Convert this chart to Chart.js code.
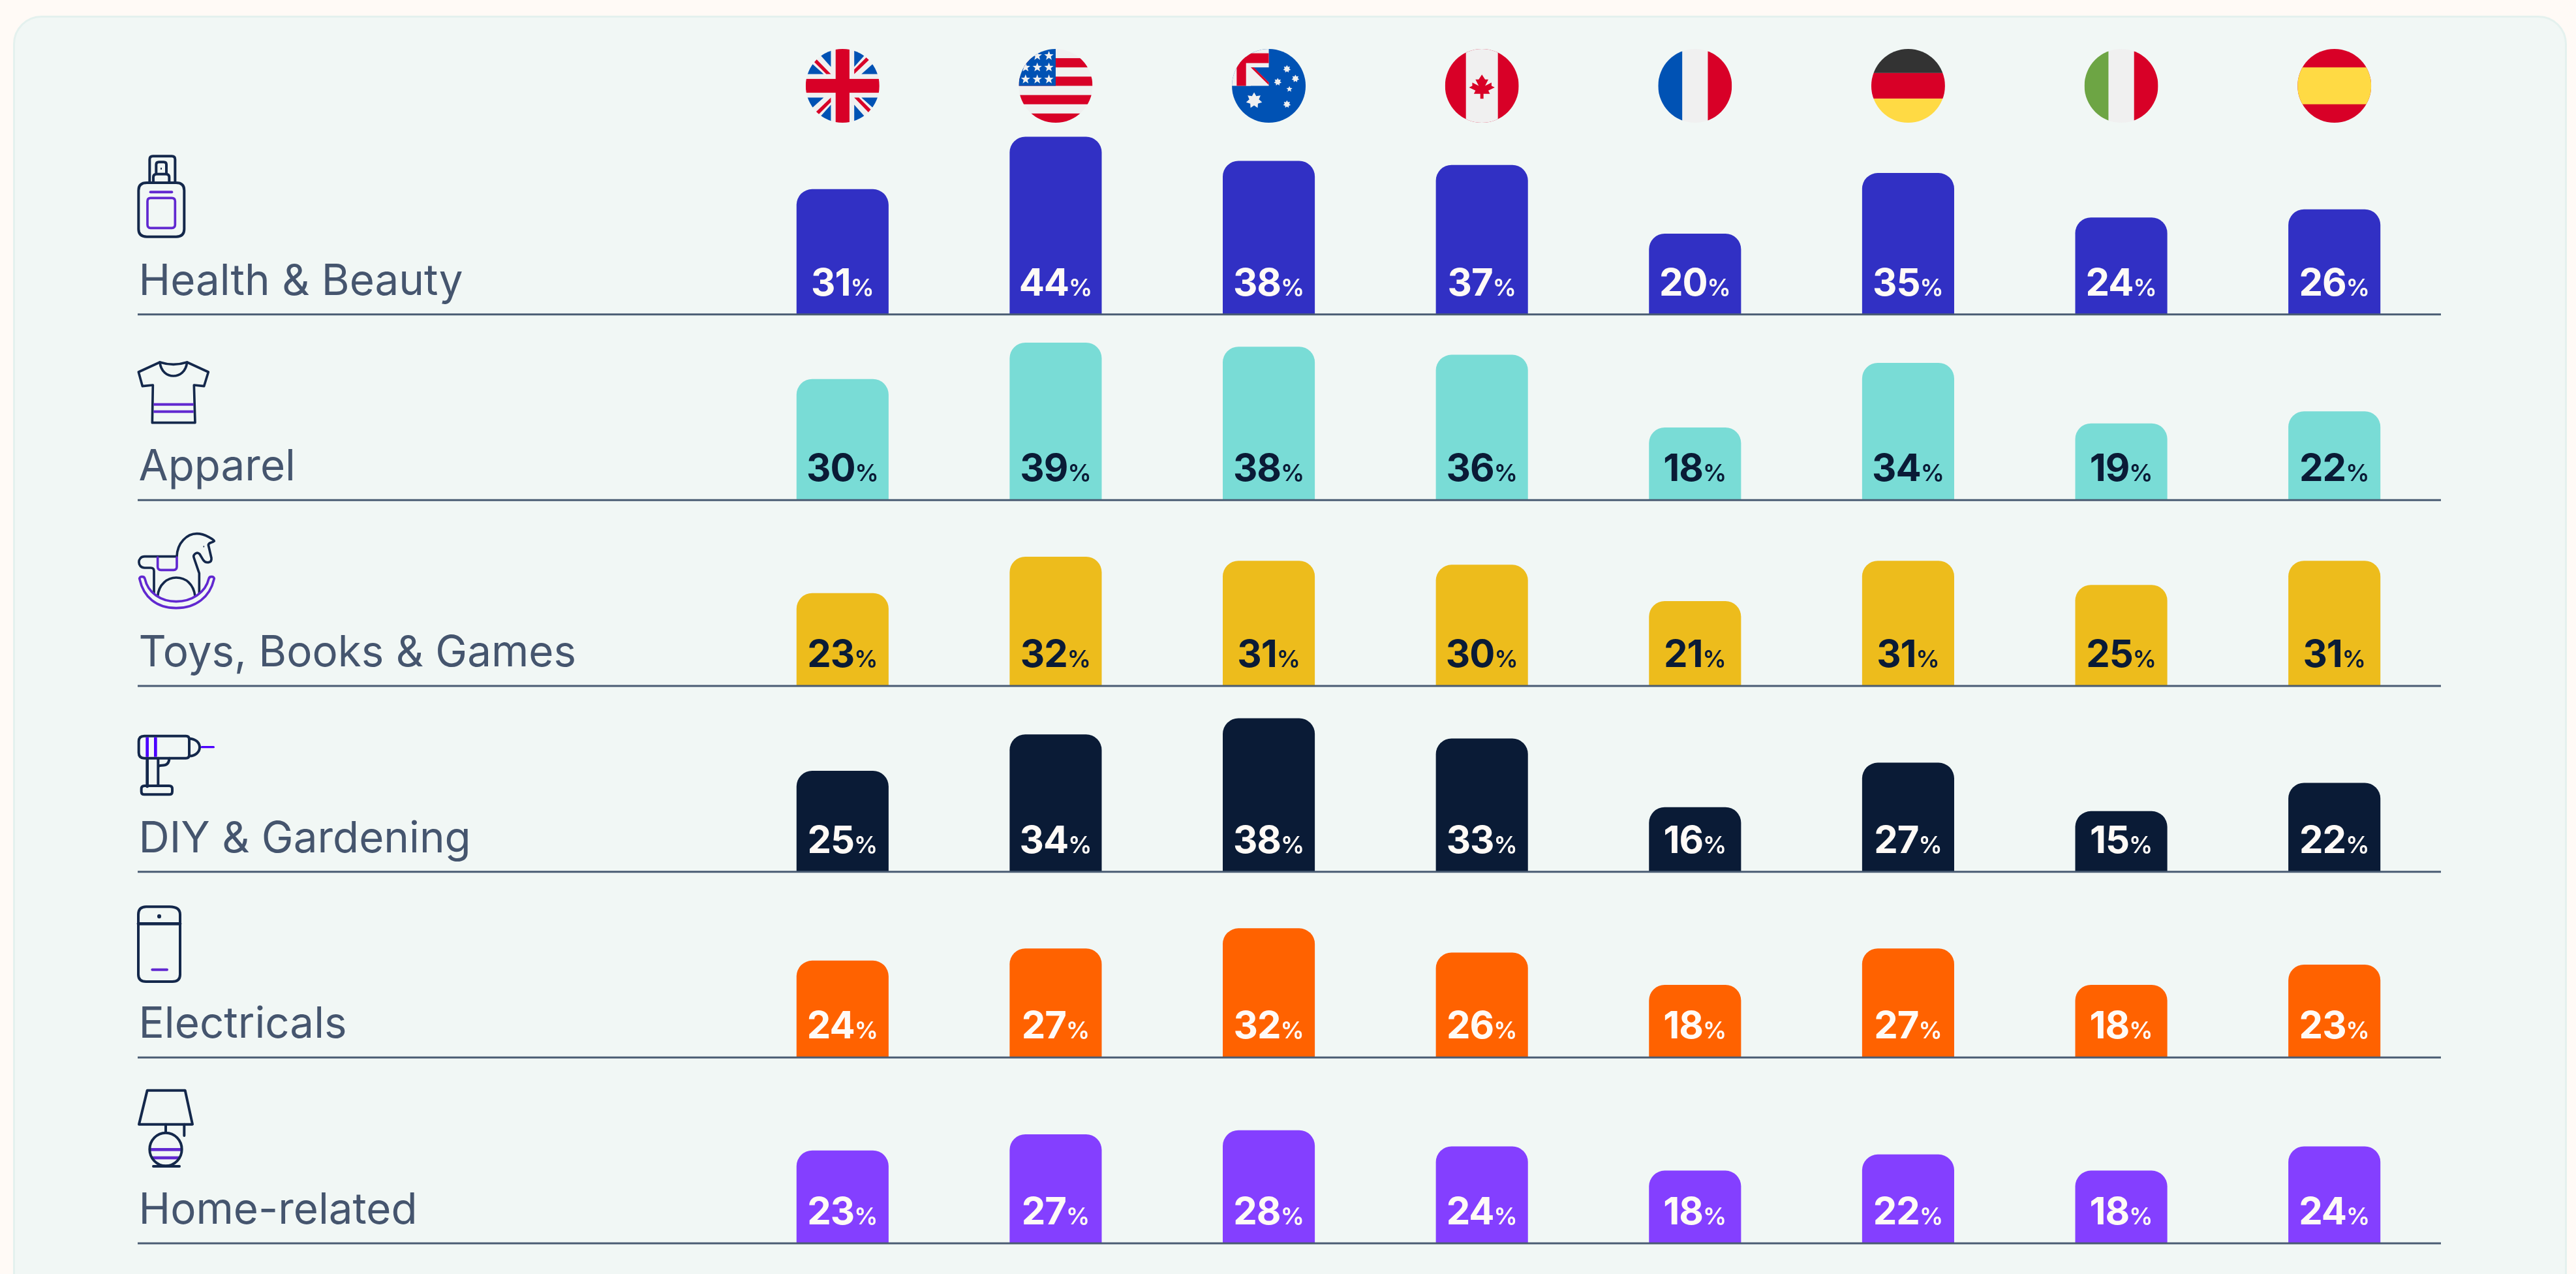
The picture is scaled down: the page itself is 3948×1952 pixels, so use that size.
<!DOCTYPE html>
<html>
<head>
<meta charset="utf-8">
<title>Categories by country</title>
<style>
  html, body { margin: 0; padding: 0; background: #FFFAF6; }
  canvas { display: block; }
</style>
<script src="https://cdn.jsdelivr.net/npm/chart.js@4"></script>
</head>
<body>
<canvas id="chart" width="3948" height="1952"></canvas>
<script>
const countries = ["UK", "USA", "Australia", "Canada", "France", "Germany", "Italy", "Spain"];
const categories = ["Health & Beauty", "Apparel", "Toys, Books & Games", "DIY & Gardening", "Electricals", "Home-related"];

const healthBeauty = [31, 44, 38, 37, 20, 35, 24, 26];
const apparel = [30, 39, 38, 36, 18, 34, 19, 22];
const toysBooksGames = [23, 32, 31, 30, 21, 31, 25, 31];
const diyGardening = [25, 34, 38, 33, 16, 27, 15, 22];
const electricals = [24, 27, 32, 26, 18, 27, 18, 23];
const homeRelated = [23, 27, 28, 24, 18, 22, 18, 24];

const seriesValues = [healthBeauty, apparel, toysBooksGames, diyGardening, electricals, homeRelated];
const barColours = ["#3130C4", "#79DCD6", "#EDBC1C", "#0A1B36", "#FF6200", "#843FFF"];
const valueColours = ["#FFFAF6", "#0A1B36", "#0A1B36", "#FFFAF6", "#FFFAF6", "#FFFAF6"];

const RED = "#D80027", BLUE = "#0052B4", WHITE = "#F0F0F0", YELLOW = "#FFDA44", GREEN = "#6DA544", BLACK = "#333333";
const NAVY = "#14284B", PURPLE = "#6128D0", DRILL = "#4B00FF";

function rect(ctx, colour, x, y, w, h) {
    ctx.fillStyle = colour;
    ctx.fillRect(x, y, w, h);
}

function poly(ctx, colour, pts) {
    ctx.fillStyle = colour;
    ctx.beginPath();
    pts.forEach((p, i) => i ? ctx.lineTo(p[0], p[1]) : ctx.moveTo(p[0], p[1]));
    ctx.closePath();
    ctx.fill();
}

function star(ctx, cx, cy, r, n, inner) {
    const pts = [];
    for (let i = 0; i < n * 2; i++) {
        const a = -Math.PI / 2 + i * Math.PI / n;
        const d = i % 2 ? r * inner : r;
        pts.push([cx + d * Math.cos(a), cy + d * Math.sin(a)]);
    }
    poly(ctx, WHITE, pts);
}

// flags are drawn in a 512 unit box, clipped to a circle
const flagPainters = {
    UK(ctx) {
        rect(ctx, WHITE, 0, 0, 512, 512);
        for (let i = 0; i < 4; i++) {
            ctx.save();
            ctx.translate(256, 256);
            ctx.rotate(i * Math.PI / 2);
            ctx.translate(-256, -256);
            poly(ctx, BLUE, [[175, 0], [90, 30], [175, 125]]);
            poly(ctx, BLUE, [[0, 175], [30, 90], [125, 175]]);
            poly(ctx, RED, [[175, 175], [143, 175], [50, 82], [68, 64]]);
            ctx.restore();
        }
        rect(ctx, RED, 208, 0, 96, 512);
        rect(ctx, RED, 0, 208, 512, 96);
    },
    USA(ctx) {
        rect(ctx, WHITE, 0, 0, 512, 512);
        [64, 192, 320, 448].forEach(y => rect(ctx, RED, 0, y, 512, 64));
        rect(ctx, BLUE, 0, 0, 256, 256);
        [[128, 48], [209, 48], [47, 128], [128, 128], [209, 128], [47, 211], [128, 211], [209, 211]]
            .forEach(s => star(ctx, s[0], s[1], 34, 5, 0.42));
    },
    Australia(ctx) {
        rect(ctx, BLUE, 0, 0, 512, 512);
        rect(ctx, WHITE, 0, 0, 256, 128);
        rect(ctx, WHITE, 0, 0, 131, 256);
        poly(ctx, WHITE, [[98, 128], [150, 128], [256, 232], [256, 256], [98, 256]]);
        poly(ctx, RED, [[131, 128], [152, 128], [256, 232], [256, 250]]);
        rect(ctx, RED, 33, 30, 223, 68);
        rect(ctx, RED, 33, 30, 65, 226);
        star(ctx, 154, 358, 57, 7, 0.6);
        star(ctx, 382, 139, 27, 7, 0.6);
        star(ctx, 441, 206, 27, 7, 0.6);
        star(ctx, 318, 229, 27, 7, 0.6);
        star(ctx, 399, 279, 22, 5, 0.45);
        star(ctx, 382, 384, 27, 7, 0.6);
    },
    Canada(ctx) {
        rect(ctx, RED, 0, 0, 512, 512);
        rect(ctx, WHITE, 145, 0, 222, 512);
        ctx.fillStyle = RED;
        ctx.fill(new Path2D("M300.5 289.4l44.5-22.3-22.3-11.1V233.7l-44.5 22.3 22.3-44.5h-22.3L256 178.1l-22.3 33.4h-22.3l22.3 44.5-44.5-22.3v22.3l-22.3 11.1 44.5 22.3-11.1 22.3h44.5v33.4h22.3v-33.4h44.5z"));
    },
    France(ctx) {
        rect(ctx, WHITE, 0, 0, 512, 512);
        rect(ctx, BLUE, 0, 0, 167, 512);
        rect(ctx, RED, 345, 0, 167, 512);
    },
    Germany(ctx) {
        rect(ctx, BLACK, 0, 0, 512, 167);
        rect(ctx, RED, 0, 167, 512, 178);
        rect(ctx, YELLOW, 0, 345, 512, 167);
    },
    Italy(ctx) {
        rect(ctx, WHITE, 0, 0, 512, 512);
        rect(ctx, GREEN, 0, 0, 167, 512);
        rect(ctx, RED, 345, 0, 167, 512);
    },
    Spain(ctx) {
        rect(ctx, RED, 0, 0, 512, 512);
        rect(ctx, YELLOW, 0, 128, 512, 256);
    }
};

function drawFlag(ctx, name, cx, cy, r) {
    ctx.save();
    ctx.beginPath();
    ctx.arc(cx, cy, r, 0, Math.PI * 2);
    ctx.clip();
    ctx.translate(cx - r, cy - r);
    ctx.scale(r / 256, r / 256);
    flagPainters[name](ctx);
    ctx.restore();
}

function line(ctx, colour, width, d, fill) {
    const path = new Path2D(d);
    ctx.strokeStyle = colour;
    ctx.lineWidth = width;
    ctx.lineCap = "round";
    ctx.lineJoin = "round";
    ctx.stroke(path);
    if (fill) {
        ctx.fillStyle = colour;
        ctx.fill(path);
    }
}

// one painter per row, path units are a third of a pixel
const iconPainters = [
    [200, 225, ctx => {
        line(ctx, NAVY, 12, "M88 165V58Q88 43 103 43H190Q205 43 205 58V165");
        line(ctx, NAVY, 12, "M118 125V82Q118 70 130 70H153Q165 70 165 82V125M105 165V140Q105 125 120 125H163Q178 125 178 140V165");
        line(ctx, NAVY, 6, "M141 98V102", true);
        line(ctx, NAVY, 12, "M75 165H210Q247 165 247 200V378Q247 413 210 413H75Q37 413 37 378V200Q37 165 75 165Z");
        line(ctx, PURPLE, 12, "M92 208H190");
        line(ctx, PURPLE, 11, "M92 235H190Q205 235 205 250V358Q205 373 190 373H92Q78 373 78 358V250Q78 235 92 235Z");
    }],
    [200, 540, ctx => {
        line(ctx, NAVY, 11, "M100 323L103 150L55 155L37 90L135 45Q197 65 260 45L358 90L338 155L292 150L297 323Z");
        line(ctx, NAVY, 11, "M135 45C140 90 170 108 197 108C225 108 255 90 260 45");
        ctx.lineCap = "butt";
        rect(ctx, PURPLE, 106, 233, 184, 12);
        rect(ctx, PURPLE, 106, 266, 184, 12);
    }],
    [200, 805, ctx => {
        line(ctx, NAVY, 11, "M108 310V210Q108 195 93 195H65C30 195 30 143 65 143H213C215 80 260 38 305 38C345 38 385 68 385 72C375 82 360 76 358 90L372 150C375 175 345 175 335 160L318 132C305 118 285 135 292 150L316 220V310");
        line(ctx, NAVY, 11, "M125 325C130 270 170 240 210 240C255 240 290 270 297 325");
        line(ctx, NAVY, 5, "M337 96V98", true);
        line(ctx, PURPLE, 11, "M125 147V190Q125 205 140 205H198Q213 205 213 190V147");
        line(ctx, PURPLE, 11, "M42 247C38 235 62 230 66 245C80 310 140 350 210 350C280 350 345 310 360 245C364 230 388 235 384 247C365 330 300 380 210 380C120 380 60 330 42 247Z");
    }],
    [200, 1110, ctx => {
        line(ctx, NAVY, 14, "M77 155V285");
        line(ctx, NAVY, 12, "M127 155V275M127 205V195Q130 188 145 188Q178 188 178 155");
        line(ctx, NAVY, 12, "M63 53H255Q270 53 270 68V140Q270 155 255 155H63Q38 155 38 130V78Q38 53 63 53Z");
        line(ctx, NAVY, 12, "M270 65C300 65 318 85 318 105C318 125 300 145 270 145");
        line(ctx, NAVY, 12, "M64 282H178Q192 282 192 296V308Q192 322 178 322H64Q50 322 50 308V296Q50 282 64 282Z");
        ctx.lineCap = "butt";
        rect(ctx, DRILL, 70, 59, 14, 90);
        rect(ctx, DRILL, 108, 59, 14, 90);
        line(ctx, DRILL, 10, "M328 104H382");
    }],
    [200, 1380, ctx => {
        line(ctx, NAVY, 12, "M72 28H180Q228 28 228 64V340Q228 372 192 372H72Q36 372 36 340V64Q36 28 72 28Z");
        line(ctx, NAVY, 14, "M36 106H228");
        line(ctx, NAVY, 18, "M132 71V73", true);
        line(ctx, PURPLE, 12, "M100 317H168");
    }],
    [200, 1660, ctx => {
        line(ctx, NAVY, 12, "M77 32H251L285 188H39Z");
        line(ctx, NAVY, 12, "M162 188V225M247 188V240");
        ctx.save();
        ctx.beginPath();
        ctx.ellipse(162, 303, 74, 76, 0, 0, Math.PI * 2);
        ctx.clip();
        rect(ctx, PURPLE, 80, 297, 170, 14);
        rect(ctx, PURPLE, 80, 335, 170, 14);
        ctx.restore();
        line(ctx, NAVY, 12, "M88 303A74 76 0 1 1 236 303A74 76 0 1 1 88 303Z");
        line(ctx, NAVY, 12, "M105 381H225");
    }]
];

const backdrop = {
    id: "backdrop",
    beforeDraw(chart) {
        const ctx = chart.ctx;
        ctx.save();
        rect(ctx, "#FFFAF6", 0, 0, chart.width, chart.height);
        ctx.fillStyle = "#F1F7F5";
        ctx.strokeStyle = "#E4F1EE";
        ctx.lineWidth = 3;
        ctx.beginPath();
        ctx.roundRect(21.5, 25.5, 3911, 2000, 42);
        ctx.fill();
        ctx.stroke();

        countries.forEach((name, i) => {
            drawFlag(ctx, name, chart.scales.x.getPixelForValue(i), 131.5, 56.5);
        });

        iconPainters.forEach(icon => {
            ctx.save();
            ctx.translate(icon[0], icon[1]);
            ctx.scale(1 / 3, 1 / 3);
            icon[2](ctx);
            ctx.restore();
        });

        ctx.font = '400 65.5px Inter';
        ctx.fillStyle = "#45556E";
        ctx.textAlign = "left";
        ctx.textBaseline = "alphabetic";
        categories.forEach((label, i) => {
            ctx.fillText(label, 212.5, chart.scales["y" + i].bottom - 30);
        });
        ctx.restore();
    },
    afterDatasetsDraw(chart) {
        const ctx = chart.ctx;
        ctx.save();
        ctx.textBaseline = "alphabetic";
        ctx.textAlign = "left";
        categories.forEach((label, i) => {
            const bottom = chart.scales["y" + i].bottom;
            ctx.strokeStyle = "#4A5C73";
            ctx.lineWidth = 3;
            ctx.beginPath();
            ctx.moveTo(211, bottom);
            ctx.lineTo(chart.chartArea.right, bottom);
            ctx.stroke();

            ctx.fillStyle = valueColours[i];
            chart.getDatasetMeta(i).data.forEach((bar, j) => {
                const number = String(seriesValues[i][j]);
                ctx.letterSpacing = "-1px";
                ctx.font = '700 58px Inter';
                const w1 = ctx.measureText(number).width;
                ctx.letterSpacing = "0px";
                ctx.font = '600 36px Inter';
                const w2 = ctx.measureText("%").width;
                const left = bar.x - (w1 + w2) / 2;
                ctx.letterSpacing = "-1px";
                ctx.font = '700 58px Inter';
                ctx.fillText(number, left, bottom - 29);
                ctx.letterSpacing = "0px";
                ctx.font = '600 36px Inter';
                ctx.fillText("%", left + w1, bottom - 29);
            });
        });
        ctx.restore();
    }
};

const yScales = {};
categories.forEach((_, i) => {
    yScales["y" + i] = {
        type: "linear",
        position: "left",
        stack: "rows",
        stackWeight: 1,
        weight: categories.length - i,
        min: 0,
        max: 46,
        display: false
    };
});

new Chart(document.getElementById("chart").getContext("2d"), {
    type: "bar",
    data: {
        labels: countries,
        datasets: categories.map((label, i) => ({
            label,
            data: seriesValues[i],
            yAxisID: "y" + i,
            backgroundColor: barColours[i],
            borderRadius: { topLeft: 24, topRight: 24 },
            borderSkipped: "bottom",
            grouped: false,
            categoryPercentage: 1,
            barPercentage: 0.432
        }))
    },
    options: {
        responsive: false,
        animation: false,
        layout: { padding: { left: 1128, right: 207, top: 197, bottom: 47 } },
        plugins: { legend: { display: false }, tooltip: { enabled: false } },
        scales: {
            x: { display: false },
            ...yScales
        }
    },
    plugins: [backdrop]
});
</script>
</body>
</html>
